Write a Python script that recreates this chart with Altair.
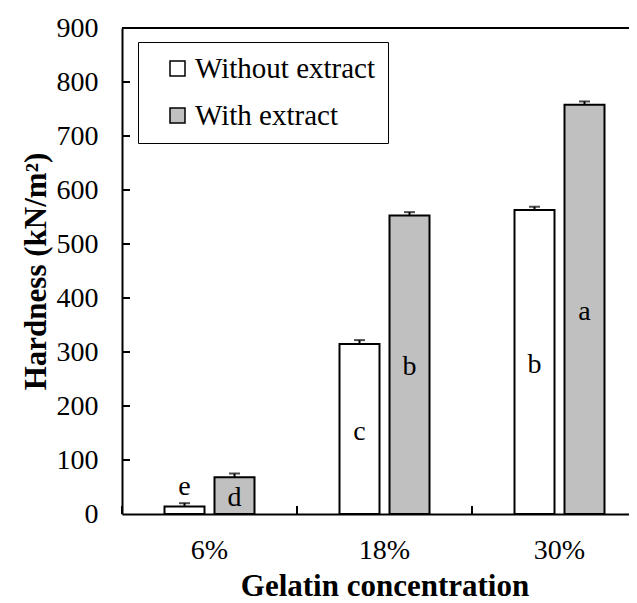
import altair as alt
import pandas as pd

concentration = ["6%", "18%", "30%"]
series = ["Without extract", "With extract"]
hardness_without = [14, 315, 563]
hardness_with = [68, 553, 758]
err_without = [6, 7, 6]
err_with = [7, 6, 6]
letters_without = ["e", "c", "b"]
letters_with = ["d", "b", "a"]
y_ticks = [0, 100, 200, 300, 400, 500, 600, 700, 800, 900]

rows = []
for i, c in enumerate(concentration):
    rows.append(dict(conc=c, series=series[0], value=hardness_without[i],
                     err=err_without[i], letter=letters_without[i]))
    rows.append(dict(conc=c, series=series[1], value=hardness_with[i],
                     err=err_with[i], letter=letters_with[i]))
df = pd.DataFrame(rows)

FONT = "Liberation Serif"
W, H = 507, 486

xscale = alt.Scale(domain=concentration, range=[0, 525], paddingInner=0, paddingOuter=0)
yscale = alt.Scale(domain=[0, 900], nice=False)
offscale = alt.Scale(domain=series, paddingInner=0.2, paddingOuter=0.85)

x_enc = alt.X("conc:N", scale=xscale, sort=concentration,
              axis=alt.Axis(title="Gelatin concentration", labelAngle=0,
                            ticks=False, tickSize=0, labelPadding=22,
                            titlePadding=7, domainWidth=2, domainColor="black",
                            labelFontSize=28, titleFontSize=31))
y_enc = alt.Y("value:Q", scale=yscale,
              axis=alt.Axis(title="Hardness (kN/m²)", values=y_ticks,
                            ticks=False, tickSize=0, labelPadding=24,
                            titlePadding=4, domainWidth=2, domainColor="black",
                            labelFontSize=28, titleFontSize=31, grid=False))

base = alt.Chart(df)

bars = base.mark_bar(stroke="black", strokeWidth=2).encode(
    x=x_enc,
    xOffset=alt.XOffset("series:N", scale=offscale, sort=series),
    y=y_enc,
    fill=alt.Fill("series:N", sort=series,
                  scale=alt.Scale(domain=series, range=["#FFFFFF", "#C0C0C0"]),
                  legend=alt.Legend(title=None, orient="none", legendX=16, legendY=14,
                                    strokeColor="black", padding=12,
                                    symbolType="square", symbolSize=225,
                                    symbolStrokeColor="black", symbolStrokeWidth=1.5,
                                    symbolOffset=13, labelOffset=3,
                                    labelFontSize=29, labelFont=FONT,
                                    rowPadding=17, labelLimit=400)),
)

err_rule = base.transform_calculate(hi="datum.value + datum.err").mark_rule(
    color="black", strokeWidth=2).encode(
    x=alt.X("conc:N", scale=xscale, sort=concentration),
    xOffset=alt.XOffset("series:N", scale=offscale, sort=series),
    y=alt.Y("value:Q", scale=yscale),
    y2="hi:Q",
)

err_cap = base.transform_calculate(hi="datum.value + datum.err").mark_tick(
    color="black", thickness=2, size=11, orient="horizontal").encode(
    x=alt.X("conc:N", scale=xscale, sort=concentration),
    xOffset=alt.XOffset("series:N", scale=offscale, sort=series),
    y=alt.Y("hi:Q", scale=yscale),
)

letters = base.transform_calculate(
    ly="datum.value < 40 ? datum.value + datum.err + 30 : datum.value / 2 - 5"
).mark_text(font=FONT, fontSize=28, baseline="middle", color="black").encode(
    x=alt.X("conc:N", scale=xscale, sort=concentration),
    xOffset=alt.XOffset("series:N", scale=offscale, sort=series),
    y=alt.Y("ly:Q", scale=yscale),
    text="letter:N",
)

tick_df = pd.DataFrame({"t": y_ticks[1:-1]})
y_tick_marks = alt.Chart(tick_df).mark_rule(color="black", strokeWidth=2).encode(
    y=alt.Y("t:Q", scale=yscale), x=alt.value(0), x2=alt.value(8))

x_tick_df = pd.DataFrame({"c": concentration})
x_tick_marks = alt.Chart(x_tick_df).mark_rule(color="black", strokeWidth=2).encode(
    x=alt.X("c:N", scale=xscale, sort=concentration, bandPosition=0),
    y=alt.value(H), y2=alt.value(H - 8))

top_df = pd.DataFrame({"v": [900]})
top_line = alt.Chart(top_df).mark_rule(color="black", strokeWidth=2).encode(
    y=alt.Y("v:Q", scale=yscale))

chart = alt.layer(bars, err_rule, err_cap, letters, y_tick_marks, x_tick_marks, top_line).properties(
    width=W, height=H,
    autosize=alt.AutoSizeParams(type="none"),
    padding={"left": 114, "top": 20, "right": 0, "bottom": 89},
).configure_view(stroke=None).configure_axis(
    labelFont=FONT, titleFont=FONT, labelColor="black", titleColor="black",
    titleFontWeight="bold",
).configure_legend(labelColor="black")

chart.save("out.html", embed_options={"renderer": "svg", "actions": False})
